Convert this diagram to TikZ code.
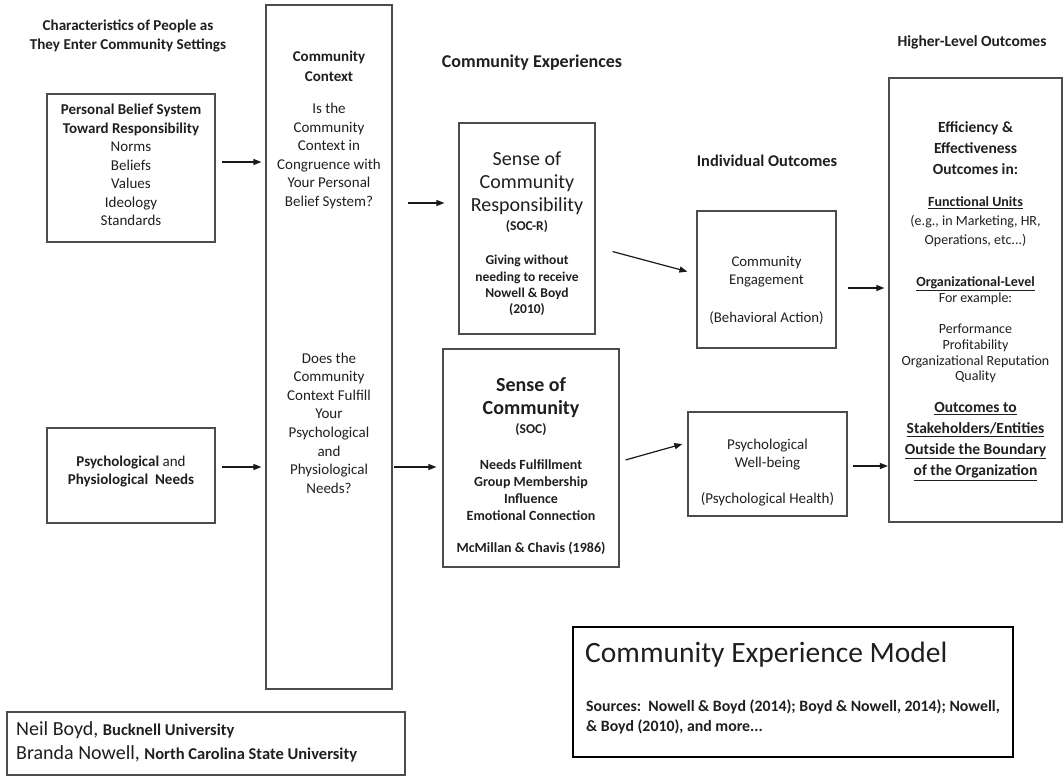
\documentclass[tikz,border=0pt]{standalone}
\usepackage{fontspec}
\setmainfont{Carlito}
\usetikzlibrary{arrows.meta}
\tikzset{
  box/.style={draw=black!70, line width=1.2pt, inner sep=0pt},
  txt/.style={align=center, inner sep=0pt, text=black!88},
  arr/.style={draw=black!90, line width=1.2pt, -{Triangle[length=8pt,width=6pt]}},
  fb/.style={font=\bfseries\fontsize{15}{18.5}\selectfont},
  fr/.style={font=\fontsize{15}{18.5}\selectfont},
}
\newcommand{\fs}[2]{\fontsize{#1}{#2}\selectfont}
\begin{document}
\begin{tikzpicture}[x=1pt,y=-1pt]
\useasboundingbox (0,0) rectangle (1064,777);
% boxes
\node[box, minimum width=168pt, minimum height=148pt] (pb) at (131,168) {};
\node[box, minimum width=126pt, minimum height=684pt] (cc) at (329,347) {};
\node[box, minimum width=168pt, minimum height=95pt] (pn) at (131,475.5) {};
\node[box, minimum width=136pt, minimum height=211pt] (socr) at (527,228.5) {};
\node[box, minimum width=176pt, minimum height=218pt] (soc) at (531,458) {};
\node[box, minimum width=139pt, minimum height=137pt] (ce) at (766.5,279.5) {};
\node[box, minimum width=159pt, minimum height=104pt] (pwb) at (767.5,464) {};
\node[box, minimum width=173pt, minimum height=444pt] (hlo) at (975.5,300) {};
\node[box, minimum width=398pt, minimum height=63pt] (auth) at (206,743.5) {};
\node[draw=black, line width=2.6pt, minimum width=440pt, minimum height=130pt] (cem) at (793,692) {};
% headers
\node[txt, font=\bfseries\fs{15.1}{19}] (h1) at (128,35.5) {Characteristics of People as\\They Enter Community Settings};
\node[txt, font=\bfseries\fs{18}{20}] (h2) at (532,63) {Community Experiences};
\node[txt, font=\bfseries\fs{16.4}{18}] (h3) at (767,161) {Individual Outcomes};
\node[txt, font=\bfseries\fs{15.5}{18}] (h4) at (972,42) {Higher-Level Outcomes};
% personal belief
\node[txt, fr] (pbt) at (131,165) {\textbf{Personal Belief System}\\\textbf{Toward Responsibility}\\Norms\\Beliefs\\Values\\Ideology\\Standards};
\node[txt, fr] (pnt) at (131,471.5) {\textbf{Psychological} and\\\textbf{Physiological\ \ Needs}};
% community context
\node[txt, font=\bfseries\fs{15}{20}] (cct) at (329,66) {Community\\Context};
\node[txt, fr] (ccq1) at (329,156) {Is the\\Community\\Context in\\Congruence with\\Your Personal\\Belief System?};
\node[txt, font=\fs{15}{18.6}] (ccq2) at (329,423) {Does the\\Community\\Context Fulfill\\Your\\Psychological\\and\\Physiological\\Needs?};
% SOC-R
\node[txt, font=\fs{20}{23}] (socrt) at (527,183) {Sense of\\Community\\Responsibility};
\node[txt, font=\bfseries\fs{13.5}{16}] (socra) at (527,227) {(SOC-R)};
\node[txt, font=\bfseries\fs{13.5}{16.3}] (socrb) at (527,285.5) {Giving without\\needing to receive\\Nowell \& Boyd\\(2010)};
% SOC
\node[txt, font=\bfseries\fs{20}{23}] (soct) at (531,397.5) {Sense of\\Community};
\node[txt, font=\bfseries\fs{13.5}{16}] (soca) at (531,430) {(SOC)};
\node[txt, font=\bfseries\fs{14}{17}] (socb) at (531,490.5) {Needs Fulfillment\\Group Membership\\Influence\\Emotional Connection};
\node[txt, font=\bfseries\fs{14}{17}] (socc) at (531,548) {McMillan \& Chavis (1986)};
% individual outcomes
\node[txt, font=\fs{14.8}{18.7}] (cet) at (766.5,290) {Community\\Engagement\\ \\(Behavioral Action)};
\node[txt, font=\fs{15}{18}] (pwbt) at (767.5,473) {Psychological\\Well-being\\ \\(Psychological Health)};
% higher-level outcomes
\node[txt, font=\bfseries\fs{15.5}{21}] (hloa) at (975.5,148) {Efficiency \&\\Effectiveness\\Outcomes in:};
\node[txt, font=\fs{14}{19}] (hlob) at (975.5,222) {\textbf{\underline{Functional Units}}\\(e.g., in Marketing, HR,\\Operations, etc...)};
\node[txt, font=\fs{14}{16}] (hloc) at (975.5,290.5) {\textbf{\underline{Organizational-Level}}\\For example:};
\node[txt, font=\fs{14}{15.7}] (hlod) at (975.5,353.5) {Performance\\Profitability\\Organizational Reputation\\Quality};
\node[txt, font=\bfseries\fs{15.5}{21}] (hloe) at (975.5,441.5) {\underline{Outcomes to}\\\underline{Stakeholders/Entities}\\\underline{Outside the Boundary}\\\underline{of the Organization}};
% bottom boxes
\node[txt, align=left, anchor=west, font=\fs{20}{24}] (autht) at (16,741.5) {Neil Boyd, {\bfseries\fs{16.5}{24}Bucknell University}\\Branda Nowell, {\bfseries\fs{16.5}{24}North Carolina State University}};
\node[txt, anchor=west, font=\fs{29.5}{32}] (cemt) at (585,655) {Community Experience Model};
\node[txt, align=left, anchor=west, font=\bfseries\fs{15.8}{20}] (cems) at (586,717) {Sources:\ \ Nowell \& Boyd (2014); Boyd \& Nowell, 2014); Nowell,\\\& Boyd (2010), and more...};
% connectors
\draw[arr, shorten <=6pt, shorten >=4pt] (pb.east |- 0,162) -- (cc.west |- 0,162);
\draw[arr, shorten <=6pt, shorten >=4pt] (pn.east |- 0,467) -- (cc.west |- 0,467);
\draw[arr, shorten <=15pt, shorten >=14pt] (cc.east |- 0,203) -- (socr.west |- 0,203);
\draw[arr, shorten <=1pt, shorten >=6pt] (cc.east |- 0,467) -- (soc.west |- 0,467);
\draw[arr, shorten <=17.6pt, shorten >=9.3pt] (socr.east |- 0,247) -- (ce.west |- 0,274);
\draw[arr, shorten <=6.2pt, shorten >=5.2pt] (soc.east |- 0,461.6) -- (pwb.west |- 0,442.6);
\draw[arr, shorten <=11pt, shorten >=4pt] (ce.east |- 0,288) -- (hlo.west |- 0,288);
\draw[arr, shorten <=5pt, shorten >=0.5pt] (pwb.east |- 0,466) -- (hlo.west |- 0,466);
\end{tikzpicture}
\end{document}
